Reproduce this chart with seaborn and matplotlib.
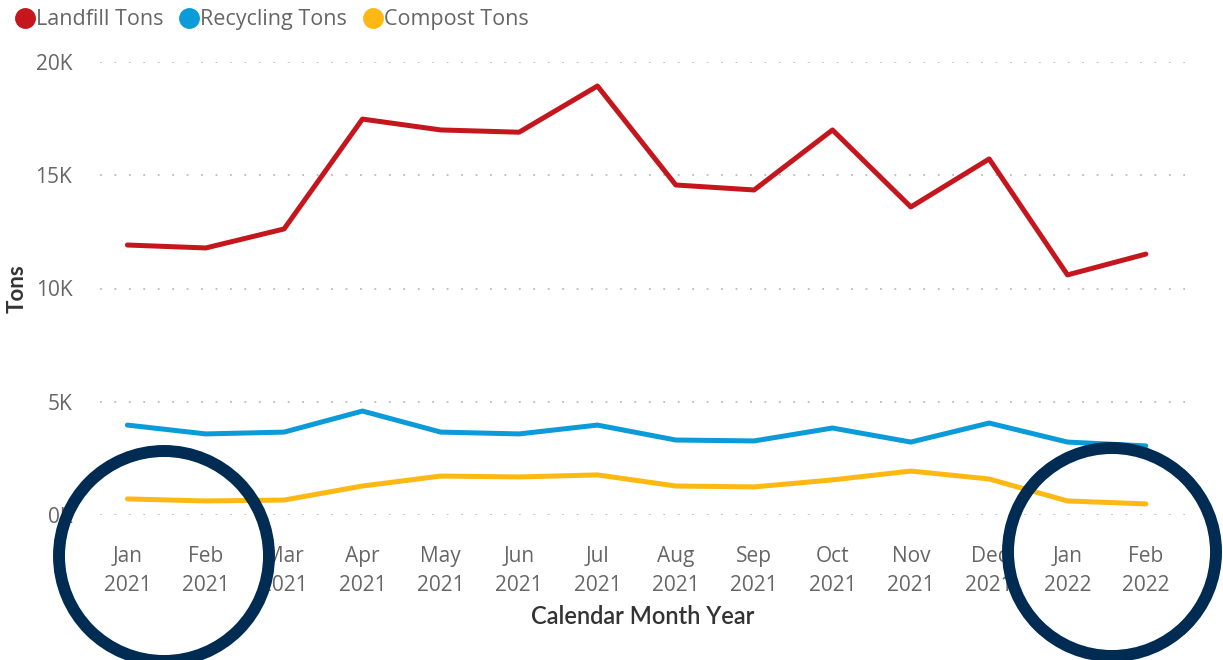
import pandas as pd
import numpy as np
import seaborn as sns
import matplotlib.pyplot as plt
from matplotlib.lines import Line2D
from matplotlib.patches import Ellipse

# monthly tonnage, Jan 2021 - Feb 2022
months = ['Jan\n2021', 'Feb\n2021', 'Mar\n2021', 'Apr\n2021', 'May\n2021', 'Jun\n2021', 'Jul\n2021',
          'Aug\n2021', 'Sep\n2021', 'Oct\n2021', 'Nov\n2021', 'Dec\n2021', 'Jan\n2022', 'Feb\n2022']
landfill = [11920, 11790, 12630, 17480, 17000, 16900, 18940, 14570, 14350, 17000, 13600, 15720, 10600, 11520]
recycling = [3970, 3580, 3660, 4590, 3660, 3580, 3970, 3310, 3270, 3840, 3220, 4060, 3220, 3050]
compost = [710, 620, 660, 1280, 1720, 1680, 1770, 1280, 1240, 1550, 1940, 1590, 620, 490]

series = ['Landfill Tons', 'Recycling Tons', 'Compost Tons']
colors = ['#C4161C', '#0A9BD8', '#FDB813']

df = pd.DataFrame({
    'idx': list(range(len(months))) * 3,
    'tons': landfill + recycling + compost,
    'series': np.repeat(series, len(months)),
})

sns.set_style('white')
plt.rcParams['font.family'] = ['Open Sans', 'DejaVu Sans']

W, H = 1223, 660
fig = plt.figure(figsize=(W / 100, H / 100), dpi=100)
ax = fig.add_axes([100 / W, (H - 515) / H, 1085 / W, 453 / H])

sns.lineplot(data=df, x='idx', y='tons', hue='series', palette=colors, linewidth=3.6,
             ax=ax, legend=False, clip_on=False)

ax.set_xlim(-0.35, 13.5)
ax.set_ylim(0, 20000)
ax.set_yticks([0, 5000, 10000, 15000, 20000])
ax.set_yticklabels(['0K', '5K', '10K', '15K', '20K'])
ax.set_xticks(range(len(months)))
ax.set_xticklabels(months, linespacing=1.55)
ax.tick_params(axis='both', length=0, labelsize=15, labelcolor='#666666')
ax.tick_params(axis='y', pad=20)
ax.tick_params(axis='x', pad=22)
ax.grid(axis='y', color='#BBBBBB', linestyle=(0, (1, 7)), linewidth=1.3)
ax.grid(axis='x', visible=False)
for s in ax.spines.values():
    s.set_visible(False)

ax.set_xlabel('Calendar Month Year', fontsize=17, color='#333333', fontweight='semibold',
              family=['Lato', 'DejaVu Sans'], labelpad=6)
ax.set_ylabel('Tons', fontsize=16, color='#333333', fontweight='bold',
              family=['Lato', 'DejaVu Sans'])
ax.yaxis.set_label_coords(-72 / 1085, 0.5)

handles = [Line2D([], [], marker='o', linestyle='', color=c, markersize=14) for c in colors]
fig.legend(handles, series, loc='upper left', bbox_to_anchor=(-0.004, 1.012), ncol=3, frameon=False,
           fontsize=15.5, labelcolor='#666666', handletextpad=-0.1, columnspacing=0.6,
           handlelength=1.2, borderpad=0.3)

# highlight circles around first and last two months
for cx, cy, r in [(164, 556, 105), (1112, 552, 104)]:
    fig.add_artist(Ellipse((cx / W, 1 - cy / H), 2 * r / W, 2 * r / H, transform=fig.transFigure,
                           fill=False, edgecolor='#002B53', linewidth=8.6, clip_on=False))

fig.savefig('out.png', dpi=100)
